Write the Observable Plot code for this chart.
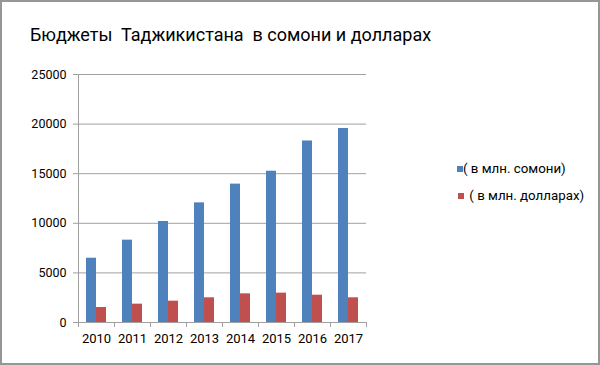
<!DOCTYPE html>
<html>
<head>
<meta charset="utf-8">
<script src="https://cdn.jsdelivr.net/npm/d3@7"></script>
<script src="https://cdn.jsdelivr.net/npm/@observablehq/plot@0.6"></script>
<style>
  html, body { margin: 0; padding: 0; background: #fff; }
  #chart { position: relative; width: 600px; height: 365px; overflow: hidden; font-family: Roboto, "Noto Sans", sans-serif; }
  #chart svg { position: absolute; left: 0; top: 0; }
  #border { position: absolute; left: 0; top: 0; width: 600px; height: 365px; box-sizing: border-box; border: 2px solid #969696; pointer-events: none; }
  #title { position: absolute; left: 30px; top: 26px; font-size: 18px; line-height: 18px; color: #000; white-space: pre; }
  .leg { position: absolute; font-size: 13.3px; line-height: 14px; color: #000; white-space: pre; }
  .sw { position: absolute; width: 6px; height: 6px; }
</style>
</head>
<body>
<div id="chart">
  <div id="title"></div>
  <div id="legend"></div>
  <div id="border"></div>
</div>
<script>
const title = "Бюджеты  Таджикистана  в сомони и долларах";
const years = ["2010", "2011", "2012", "2013", "2014", "2015", "2016", "2017"];
const somoni = [6480, 8300, 10180, 12060, 13950, 15250, 18300, 19560];
const dollars = [1510, 1850, 2150, 2490, 2890, 2960, 2750, 2490];
const seriesNames = ["( в млн. сомони)", " ( в млн. долларах)"];
const seriesColors = ["#4f81bd", "#c0504d"];
const yTicks = [0, 5000, 10000, 15000, 20000, 25000];

const rowsS = years.map((y, i) => ({year: y, value: somoni[i]}));
const rowsD = years.map((y, i) => ({year: y, value: dollars[i]}));

const axisColor = "#a0a0a0";

const plot = Plot.plot({
  width: 600,
  height: 365,
  marginLeft: 78,
  marginRight: 234,
  marginTop: 74,
  marginBottom: 43,
  style: {fontFamily: "Roboto, 'Noto Sans', sans-serif", fontSize: "12.5px", color: "#000", background: "transparent"},
  x: {domain: years, paddingInner: 0, paddingOuter: 0, tickSize: 0, tickPadding: 11, label: null},
  y: {domain: [0, 25000], ticks: yTicks, tickSize: 0, tickPadding: 12, label: null, tickFormat: d => String(d)},
  marks: [
    Plot.ruleY(yTicks, {stroke: axisColor, insetLeft: -5}),
    Plot.barY(rowsS, {x: "year", y: "value", fill: seriesColors[0], insetLeft: 8, insetRight: 18}),
    Plot.barY(rowsD, {x: "year", y: "value", fill: seriesColors[1], insetLeft: 18, insetRight: 8}),
    Plot.ruleX(years, {x: d => d, dx: -18, y1: 0, y2: 0, insetBottom: -5, stroke: axisColor}),
    Plot.ruleX([years[years.length - 1]], {x: d => d, dx: 18, y1: 0, y2: 0, insetBottom: -5, stroke: axisColor}),
    Plot.ruleX([years[0]], {x: d => d, dx: -18, y1: 25000, y2: 0, stroke: axisColor})
  ]
});
plot.querySelectorAll("g[aria-label='x-axis tick label'] text, g[aria-label='x-axis'] text").forEach(t => t.style.fontSize = "13px");
document.getElementById("chart").insertBefore(plot, document.getElementById("title"));
document.getElementById("title").textContent = title;

const legend = document.getElementById("legend");
const legPos = [{sx: 457, sy: 166, tx: 463, ty: 162}, {sx: 458, sy: 193, tx: 466, ty: 189}];
seriesNames.forEach((name, i) => {
  const sw = document.createElement("div");
  sw.className = "sw";
  sw.style.left = legPos[i].sx + "px";
  sw.style.top = legPos[i].sy + "px";
  sw.style.background = seriesColors[i];
  legend.appendChild(sw);
  const t = document.createElement("div");
  t.className = "leg";
  t.style.left = legPos[i].tx + "px";
  t.style.top = legPos[i].ty + "px";
  t.textContent = name;
  legend.appendChild(t);
});
</script>
</body>
</html>
